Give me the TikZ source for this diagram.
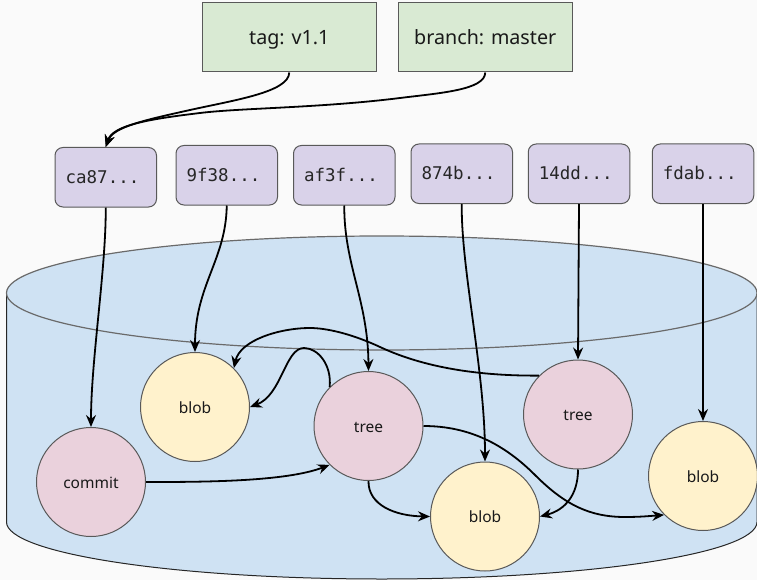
\documentclass[tikz,border=0pt]{standalone}
\usepackage{fontspec}
\setmainfont{Noto Sans}
\newfontfamily\hashfont{DejaVu Sans Mono}
\usetikzlibrary{arrows.meta}
\definecolor{bgc}{HTML}{FAFAFA}
\definecolor{greenc}{HTML}{D9EAD3}
\definecolor{purplec}{HTML}{D9D2E9}
\definecolor{bluec}{HTML}{CFE2F3}
\definecolor{pinkc}{HTML}{EAD1DC}
\definecolor{yellowc}{HTML}{FFF2CC}
\definecolor{edgec}{HTML}{595959}
\tikzset{
  refbox/.style={draw=edgec,line width=1pt,fill=greenc,minimum width=173.5pt,minimum height=69pt,inner sep=0pt,text height=17pt,text depth=3pt,font=\fontsize{19.7}{26}\selectfont,text=black!90},
  hashbox/.style={draw=edgec,line width=1pt,fill=purplec,rounded corners=8pt,minimum width=101.5pt,minimum height=59.5pt,inner sep=0pt,text height=14.5pt,text depth=2pt,font=\hashfont\fontsize{17.5}{22}\selectfont,text=black!85},
  objc/.style={circle,draw=edgec,line width=1pt,minimum size=109pt,inner sep=0pt,text height=14.5pt,text depth=2pt,font=\fontsize{15.5}{20}\selectfont,text=black!90},
  treeobj/.style={objc,fill=pinkc},
  blobobj/.style={objc,fill=yellowc},
  conn/.style={draw=black,line width=1.8pt,-{Stealth[length=12pt,width=10pt,inset=4pt]}},
}
\newcommand{\hashtxt}[1]{\hspace*{-6.5pt}#1}
\begin{document}
\begin{tikzpicture}[x=1pt,y=-1pt]
\useasboundingbox (0,0) rectangle (757,580);
\fill[bgc] (0,0) rectangle (757,580);
% cylinder
\path[fill=bluec,draw=black!85,line width=1pt] (6.5,293) -- (6.5,522) arc[start angle=180,end angle=360,x radius=375.25,y radius=-57] -- (757,293) -- cycle;
\path[fill=bluec,draw=edgec!90!white,line width=1.2pt] (381.75,293) ellipse[x radius=375.25,y radius=57];
% nodes
\node[refbox] (tag) at (289.25,37.5) {tag: v1.1};
\node[refbox] (branch) at (485.25,37.5) {branch: master};
\node[hashbox] (h1) at (105.75,177.25) {\hashtxt{ca87...}};
\node[hashbox] (h2) at (226.75,175.25) {\hashtxt{9f38...}};
\node[hashbox] (h3) at (344.25,175.25) {\hashtxt{af3f...}};
\node[hashbox] (h4) at (461.75,173.75) {\hashtxt{874b...}};
\node[hashbox] (h5) at (579,173.75) {\hashtxt{14dd...}};
\node[hashbox] (h6) at (703,173.75) {\hashtxt{fdab...}};
\node[treeobj] (commit) at (91,482) {commit};
\node[blobobj] (blobA) at (195,407) {blob};
\node[treeobj] (treeA) at (368.5,426) {tree};
\node[treeobj] (treeB) at (578,414.5) {tree};
\node[blobobj] (blobB) at (485,516.5) {blob};
\node[blobobj] (blobC) at (703,476) {blob};
% connectors
\draw[conn] (tag.south) .. controls (289,92) and (235,100) .. (190,110) .. controls (145,120) and (113,127) .. (h1.north);
\draw[conn] (branch.south) .. controls (485,90) and (440,93) .. (400,98) .. controls (320,108) and (240,108) .. (200,113) .. controls (150,119) and (113,125) .. (h1.north);
\draw[conn] (h1.south) .. controls (106,270) and (91,360) .. (commit.north);
\draw[conn] (h2.south) .. controls (226,260) and (195,285) .. (blobA.north);
\draw[conn] (h3.south) .. controls (344,265) and (368,300) .. (treeA.north);
\draw[conn] (h4.south) .. controls (461,270) and (485,370) .. (blobB.north);
\draw[conn] (h5.south) -- (treeB.north);
\draw[conn] (h6.south) -- (blobC.north);
\draw[conn] (commit.east) .. controls (200,482) and (285,482) .. (treeA.225);
\draw[conn] (treeA.135) .. controls (332,365) and (318,348) .. (304,348) .. controls (285,348) and (282,395) .. (blobA.east);
\draw[conn] (treeB.135) .. controls (480,376) and (425,368) .. (380,347) .. controls (350,333) and (325,328) .. (310,328) .. controls (280,328) and (240,340) .. (blobA.45);
\draw[conn] (treeA.south) .. controls (368,505) and (395,516) .. (blobB.west);
\draw[conn] (treeB.south) .. controls (578,495) and (565,510) .. (blobB.east);
\draw[conn] (treeA.east) .. controls (470,426) and (505,445) .. (535,475) .. controls (565,505) and (590,517) .. (625,517) .. controls (640,517) and (650,516) .. (blobC.225);
\end{tikzpicture}
\end{document}
